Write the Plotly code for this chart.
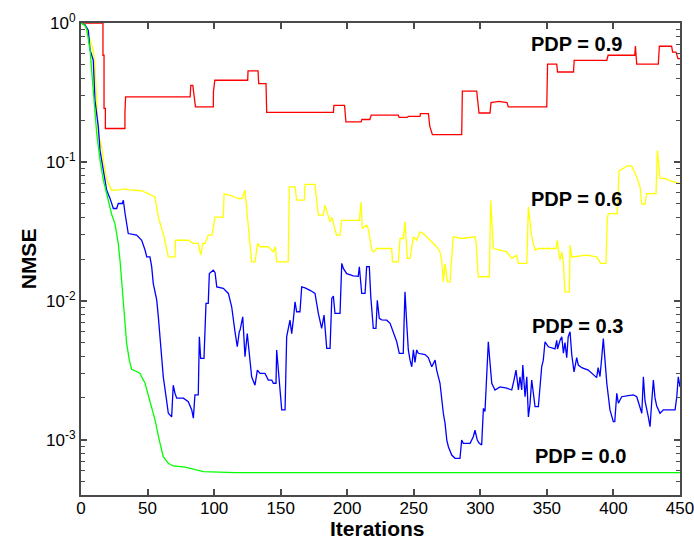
import numpy as np
import plotly.graph_objects as go

# ---------------- data ----------------
red_iter = [0, 16.5, 16.5, 17.3, 17.3, 18.3, 18.3, 33, 33, 33.5, 82, 82.5, 84, 86, 99.4, 99.5, 100.5, 125.2, 125.5,
            133, 133.5, 139, 139.5, 189.6, 190, 198, 199, 210.4, 211, 217, 218, 238.4, 239, 245, 246, 254.7, 255,
            261, 262, 264, 286, 286.5, 297.3, 299, 307.3, 308, 314, 320, 321, 349.9, 350.5, 357.4, 358, 370,
            370.5, 395, 396, 416, 416.5, 417.5, 433.7, 434.5, 443.7, 444.5, 447, 448.5, 450]
red_nmse = [1.0, 1.0, 0.586, 0.586, 0.243, 0.243, 0.174, 0.174, 0.223, 0.294, 0.294, 0.356, 0.356, 0.249, 0.249,
            0.32, 0.387, 0.387, 0.452, 0.452, 0.366, 0.366, 0.227, 0.227, 0.255, 0.255, 0.194, 0.194, 0.202, 0.202,
            0.217, 0.217, 0.209, 0.209, 0.213, 0.213, 0.223, 0.223, 0.181, 0.157, 0.157, 0.323, 0.323, 0.225,
            0.225, 0.267, 0.273, 0.267, 0.249, 0.249, 0.505, 0.505, 0.444, 0.444, 0.539, 0.539, 0.586, 0.586,
            0.683, 0.505, 0.505, 0.68, 0.68, 0.618, 0.618, 0.554, 0.554]

yel_iter = [0, 3, 9.2, 10.5, 11.8, 13, 15.6, 16.8, 19.3, 23, 29, 33, 36, 45.6, 55.6, 58.1, 61.8, 65.6, 70.6, 71,
            80.6, 84.4, 88.1, 89.9, 91.5, 93.2, 95.6, 98.5, 100.7, 106.9, 107.5, 113.2, 118.2, 121, 123.2, 125.2,
            128.2, 130.7, 132.8, 134.5, 140.7, 144.5, 146, 147, 155.7, 156.5, 160.8, 162, 167.8, 168.3, 175.8, 177,
            178.3, 182, 183.3, 185.5, 187.1, 188.4, 190.8, 192, 194.6, 195.9, 209.1, 210.4, 211.3, 214.6, 215.8,
            218.4, 220, 222.2, 233.4, 234, 238.4, 239.7, 242.1, 243.4, 245.2, 247.2, 249.7, 252.2, 254.7, 257.2,
            262.2, 267.2, 269.7, 271, 272.2, 273.5, 275.3, 277.2, 279.7, 286, 296, 296.8, 298.5, 306.8, 307.8,
            309.8, 314.8, 319.8, 323.6, 327.3, 328.6, 334.9, 336.1, 338.6, 341.1, 343.6, 356.9, 357.9, 358.6,
            359.9, 361.2, 362.4, 363.6, 366.9, 367.4, 368.7, 372.4, 379.9, 387.4, 390.5, 394.4, 395.4, 396.2,
            402.9, 404.2, 410.4, 413.7, 417.5, 420, 421.3, 423.7, 425, 432, 433, 435, 439, 441.3, 445, 448.7, 450]
yel_nmse = [1.0, 0.97, 0.64, 0.48, 0.278, 0.16, 0.128, 0.103, 0.074, 0.0625, 0.063, 0.064, 0.063, 0.062, 0.056,
            0.040, 0.0305, 0.0207, 0.0207, 0.0273, 0.0273, 0.0259, 0.0259, 0.0213, 0.0259, 0.0259, 0.0297, 0.0297,
            0.040, 0.040, 0.059, 0.057, 0.0545, 0.0545, 0.0625, 0.040, 0.0191, 0.0191, 0.0259, 0.0245, 0.0245,
            0.0225, 0.0245, 0.0191, 0.0191, 0.066, 0.066, 0.053, 0.053, 0.0688, 0.0688, 0.053, 0.0414, 0.0414,
            0.0488, 0.0414, 0.037, 0.040, 0.0323, 0.0297, 0.0297, 0.038, 0.038, 0.0515, 0.0332, 0.0350, 0.0332,
            0.0232, 0.0225, 0.0238, 0.0238, 0.0191, 0.0191, 0.0281, 0.0281, 0.037, 0.0202, 0.0202, 0.0289, 0.0273,
            0.0313, 0.0305, 0.0273, 0.0245, 0.0225, 0.0195, 0.0137, 0.0185, 0.0137, 0.0137, 0.0289, 0.0281, 0.0289,
            0.0266, 0.0149, 0.0149, 0.053, 0.0238, 0.0232, 0.0225, 0.0202, 0.0213, 0.0186, 0.0186, 0.0475, 0.0289,
            0.0232, 0.0238, 0.0238, 0.0273, 0.0232, 0.0196, 0.0225, 0.0186, 0.0116, 0.0116, 0.0252, 0.0207,
            0.0209, 0.0213, 0.0207, 0.0186, 0.0186, 0.0392, 0.0425, 0.0425, 0.0861, 0.0936, 0.0936, 0.078, 0.066,
            0.0496, 0.0496, 0.0592, 0.0592, 0.121, 0.076, 0.076, 0.074, 0.0718, 0.070, 0.070]

blue_iter = [0, 3, 5.5, 6.8, 9.2, 10.5, 13, 14.3, 16.8, 19.3, 21.8, 24.3, 26.8, 28, 31, 31.8, 33.1, 35.5, 41.8,
             45.6, 48.1, 49.4, 51.8, 53.1, 54.3, 56.9, 58.1, 59.4, 60.6, 61.8, 63.9, 65.6, 68.1, 69.3, 70.6, 71.9,
             76.9, 80.6, 83.2, 84.4, 85.6, 88.1, 88.9, 89.9, 92.4, 93.2, 93.9, 95.6, 96.4, 99.4, 100.7, 102, 106.9,
             110.7, 113.2, 115.7, 117.4, 118.9, 119.5, 121.5, 123.2, 124.9, 127, 128.2, 130.7, 132.5, 134.5, 138.2,
             140.7, 143.3, 144.5, 146.5, 147, 148.2, 149.5, 150.8, 153.3, 154.5, 157, 158.3, 159.5, 160.8, 162,
             164.5, 165.8, 168.3, 172.1, 175.8, 178.3, 180.8, 182.6, 184.6, 187.1, 188.4, 189.6, 190.8, 194.6,
             195.9, 197.1, 199.6, 204.6, 208.3, 209.1, 210.9, 213.4, 214.6, 216.6, 217.7, 219.6, 221.6, 222.6,
             224.1, 225.9, 229.7, 232.2, 234.6, 237.2, 239.1, 242.1, 242.7, 243.4, 244.7, 245.9, 247.2, 248.5,
             249.7, 250.9, 252.2, 253.4, 258.5, 260.9, 263.5, 266, 267.2, 269.7, 272.2, 273.5, 274.8, 276, 278.5,
             281, 284.7, 286, 287.2, 292.3, 294.7, 296, 297.7, 299.2, 301, 302.3, 303.5, 304.8, 306, 307.3, 308.6,
             311, 314.8, 319.8, 323.6, 325.3, 326.8, 328.6, 329.8, 331.1, 331.9, 333.6, 334.9, 336.1, 337.3, 338.6,
             341.1, 343.6, 344.9, 346.1, 347.3, 348.6, 351.1, 353.6, 356.1, 357.4, 358, 359.9, 361.2, 362.4, 363.6,
             364.9, 366, 367.4, 368.7, 370.4, 372.4, 373.6, 376.2, 381.1, 384.9, 387.4, 388.5, 389.9, 391.2, 392.4,
             393.5, 395, 397.4, 399.9, 401, 402.5, 403.7, 406.2, 411.2, 415, 417.5, 420, 421.3, 422.5, 423.7,
             426.2, 427.5, 428.8, 430, 431.2, 432.5, 435, 437.5, 446.3, 447.6, 448.7, 450]
blue_nmse = [1.0, 0.97, 0.885, 0.64, 0.54, 0.278, 0.179, 0.121, 0.087, 0.0625, 0.0546, 0.0462, 0.0462, 0.0502,
             0.0502, 0.053, 0.0425, 0.0305, 0.0297, 0.0273, 0.0232, 0.0207, 0.0207, 0.0176, 0.0133, 0.0101, 0.00767,
             0.00551, 0.00419, 0.00284, 0.00204, 0.00155, 0.00146, 0.00247, 0.00216, 0.00199, 0.00199, 0.00188,
             0.00164, 0.00143, 0.0021, 0.0021, 0.00551, 0.00385, 0.00385, 0.00615, 0.00958, 0.00958, 0.0157, 0.0166,
             0.0160, 0.0126, 0.0123, 0.0113, 0.00906, 0.00598, 0.00467, 0.00600, 0.00615, 0.00767, 0.00396, 0.00582,
             0.00374, 0.00284, 0.00247, 0.00317, 0.003, 0.003, 0.00269, 0.00269, 0.00255, 0.00255, 0.00443, 0.00317,
             0.00228, 0.00164, 0.00164, 0.00551, 0.00726, 0.0058, 0.00726, 0.00984, 0.00834, 0.00834, 0.0126,
             0.0124, 0.0119, 0.0113, 0.00811, 0.00633, 0.00789, 0.00455, 0.00455, 0.0104, 0.0108, 0.00811, 0.00811,
             0.0186, 0.0171, 0.0157, 0.0151, 0.0150, 0.0176, 0.0113, 0.0113, 0.0176, 0.0176, 0.0107, 0.00633,
             0.00633, 0.0101, 0.00747, 0.00730, 0.00725, 0.00688, 0.00598, 0.00507, 0.00419, 0.00419, 0.00688,
             0.0116, 0.00688, 0.00443, 0.00374, 0.00335, 0.00443, 0.00360, 0.00443, 0.00419, 0.00410, 0.00390,
             0.00335, 0.00374, 0.00317, 0.00255, 0.00155, 0.00131, 0.000995, 0.00089, 0.000776, 0.000735, 0.000735,
             0.000995, 0.000942, 0.000942, 0.00105, 0.00117, 0.000995, 0.000942, 0.000916, 0.00168, 0.00160,
             0.00317, 0.00507, 0.00355, 0.00255, 0.00228, 0.0024, 0.00235, 0.00228, 0.00269, 0.00317, 0.00228,
             0.00284, 0.00228, 0.00345, 0.00204, 0.00284, 0.00146, 0.0018, 0.00269, 0.00173, 0.00173, 0.00269,
             0.00335, 0.00374, 0.00507, 0.00467, 0.00460, 0.0045, 0.0052, 0.0045, 0.0052, 0.00551, 0.0042, 0.0050,
             0.00390, 0.00551, 0.00598, 0.00407, 0.00308, 0.00390, 0.00345, 0.0033, 0.00317, 0.00292, 0.0028,
             0.00330, 0.00285, 0.0039, 0.00536, 0.0039, 0.00255, 0.00164, 0.00135, 0.00135, 0.00216, 0.00183,
             0.00204, 0.00208, 0.00210, 0.00204, 0.00173, 0.00155, 0.00284, 0.00190, 0.00146, 0.00124, 0.0019,
             0.00269, 0.002, 0.00175, 0.00155, 0.00164, 0.00164, 0.00204, 0.00284, 0.0024]

grn_iter = [0, 3, 4.3, 6.8, 8, 9.2, 11.8, 14.3, 16.8, 19.3, 21.8, 23, 25.5, 28, 29.3, 30.6, 31.8, 33.1, 34.3,
            36.3, 38.1, 41.8, 44.3, 48.1, 51.8, 55.6, 58.8, 61.8, 65.6, 69.3, 78.1, 85.6, 91.9, 115.7, 450]
grn_nmse = [1.0, 0.96, 0.9, 0.64, 0.457, 0.31, 0.16, 0.103, 0.074, 0.059, 0.0475, 0.042, 0.036, 0.0259, 0.0196,
            0.0133, 0.00958, 0.00688, 0.00494, 0.00374, 0.00321, 0.0031, 0.003, 0.00255, 0.00193, 0.00139,
            0.000995, 0.000755, 0.000676, 0.000647, 0.000635, 0.000612, 0.000589, 0.00058, 0.00058]

x_ticks = [0, 50, 100, 150, 200, 250, 300, 350, 400, 450]
y_ticks = [1e-3, 1e-2, 1e-1, 1e0]
y_ticktext = ["10<sup>-3</sup>", "10<sup>-2</sup>", "10<sup>-1</sup>", "10<sup>0</sup>"]

labels = ["PDP = 0.9", "PDP = 0.6", "PDP = 0.3", "PDP = 0.0"]
label_x = [372, 372, 373, 375]
label_y = [0.711, 0.0545, 0.0066, 0.000763]

# ---------------- figure ----------------
fig = go.Figure()
series = [(red_iter, red_nmse, "#ff0000"), (yel_iter, yel_nmse, "#ffff00"),
          (blue_iter, blue_nmse, "#0000ff"), (grn_iter, grn_nmse, "#00ff00")]
for xs, ys, col in series:
    fig.add_trace(go.Scatter(x=xs, y=ys, mode="lines", line=dict(color=col, width=1.3), showlegend=False))

for txt, lx, ly in zip(labels, label_x, label_y):
    fig.add_annotation(x=lx, y=np.log10(ly), xref="x", yref="y", text="<b>%s</b>" % txt, showarrow=False,
                       font=dict(family="Liberation Sans, Arial, sans-serif", size=20, color="black"))

minor_vals = [k * 10.0 ** e for e in range(-4, 0) for k in range(2, 10)]
tick_font = dict(family="Liberation Sans, Arial, sans-serif", size=17, color="black")
axis_col = "#4a4a4a"

fig.update_xaxes(range=[0, 450], tickvals=x_ticks, ticks="inside", ticklen=6, tickwidth=1.5, tickcolor=axis_col,
                 showline=True, linecolor=axis_col, linewidth=2, mirror="ticks", showgrid=False, zeroline=False,
                 tickfont=tick_font, ticklabeloverflow="allow", ticklabelstandoff=-3, automargin=False)
fig.update_yaxes(type="log", range=[np.log10(4e-4), 0], tickvals=y_ticks, ticktext=y_ticktext, ticks="inside",
                 ticklen=6, tickwidth=1.5, tickcolor=axis_col, showline=True, linecolor=axis_col, linewidth=2,
                 mirror="ticks", showgrid=False, zeroline=False, tickfont=tick_font, ticklabeloverflow="allow",
                 automargin=False,
                 minor=dict(tickvals=minor_vals, ticks="inside", ticklen=4, tickwidth=1.2, tickcolor=axis_col,
                            showgrid=False))

title_font = dict(family="Liberation Sans, Arial, sans-serif", size=21, color="black")
fig.add_annotation(x=0.495, y=-0.072, xref="paper", yref="paper", text="<b>Iterations</b>", showarrow=False,
                   yanchor="middle", font=title_font)
fig.add_annotation(x=-0.088, y=0.5, xref="paper", yref="paper", text="<b>NMSE</b>", showarrow=False,
                   textangle=-90, xanchor="center", font=title_font)

fig.update_layout(width=694, height=545, margin=dict(l=81, r=14, t=23, b=50, autoexpand=False),
                  plot_bgcolor="white", paper_bgcolor="white")
fig.write_html("out.html")
